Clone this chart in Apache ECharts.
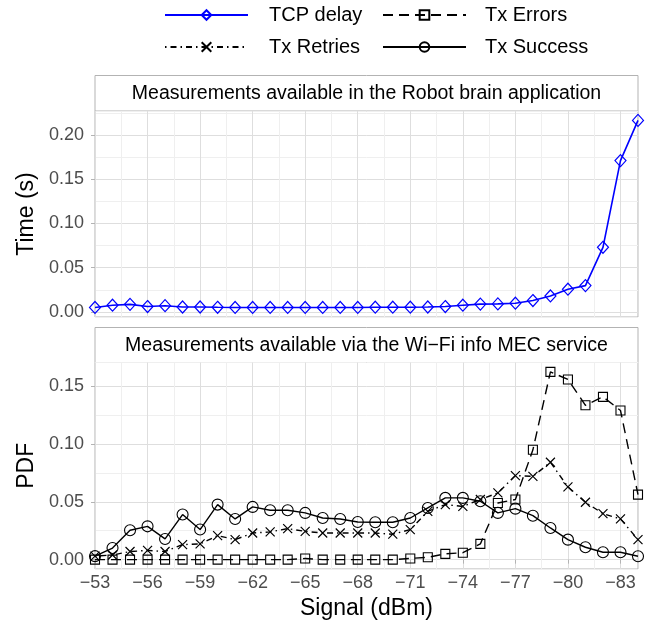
<!DOCTYPE html>
<html>
<head>
<meta charset="utf-8">
<script src="https://cdn.jsdelivr.net/npm/echarts@6/dist/echarts.min.js"></script>
</head>
<body style="margin:0;background:#fff">
<div id="main" style="width:655px;height:628px;"></div>
<script>
// signal levels (dBm), one point per dBm
var signal = [-53, -54, -55, -56, -57, -58, -59, -60, -61, -62, -63, -64, -65, -66, -67, -68,
              -69, -70, -71, -72, -73, -74, -75, -76, -77, -78, -79, -80, -81, -82, -83, -84];

// top panel: TCP delay (s)
var tcpDelay = [0.005, 0.0075, 0.0085, 0.006, 0.007, 0.0055, 0.0055, 0.0052, 0.005, 0.005, 0.005, 0.005, 0.005, 0.005, 0.005, 0.005,
                0.0053, 0.0053, 0.0053, 0.0055, 0.006, 0.0075, 0.0088, 0.009, 0.0098, 0.0128, 0.018, 0.0256, 0.0297, 0.073, 0.171, 0.2165];

// bottom panel: PDFs
var txErrors = [0, 0, 0, 0, 0, 0, 0, 0, 0, 0, 0, 0, 0.001, 0, 0, 0,
                0, 0, 0.001, 0.002, 0.005, 0.006, 0.0136, 0.049, 0.052, 0.095, 0.1624, 0.1558, 0.1335, 0.1408, 0.129, 0.0562];
var txRetries = [0.003, 0.004, 0.007, 0.008, 0.007, 0.013, 0.0136, 0.0208, 0.0173, 0.023, 0.024, 0.0268, 0.0245, 0.023, 0.023, 0.023,
                 0.023, 0.022, 0.026, 0.0418, 0.0476, 0.046, 0.052, 0.0577, 0.0727, 0.072, 0.0842, 0.0629, 0.0496, 0.0398, 0.0352, 0.0173];
var txSuccess = [0.003, 0.010, 0.0254, 0.0288, 0.0179, 0.039, 0.026, 0.0476, 0.0352, 0.0456, 0.0427, 0.0427, 0.0404, 0.036, 0.0352, 0.0326,
                 0.0323, 0.0323, 0.036, 0.0447, 0.0534, 0.0534, 0.0505, 0.0404, 0.0441, 0.038, 0.0274, 0.0173, 0.0107, 0.0064, 0.0064, 0.0029];

var topTicks = [0, 0.05, 0.10, 0.15, 0.20];
var bottomTicks = [0, 0.05, 0.10, 0.15];

var font = 'Liberation Sans, Arial, Helvetica, sans-serif';
var major = '#dedede', minor = '#efefef', border = '#b3b3b3';

var chart = echarts.init(document.getElementById('main'));

function gridAxis(gi, interval, color) {
    return {
        type: 'value', gridIndex: gi, min: 0, max: signal.length - 1, interval: interval,
        axisLine: {show: false}, axisTick: {show: false}, axisLabel: {show: false},
        splitLine: {show: true, lineStyle: {color: color, width: 1}}
    };
}

function minorY(gi, min, max) {
    return {
        type: 'value', gridIndex: gi, position: 'left', min: min, max: max, minInterval: 0.025, maxInterval: 0.025,
        axisLine: {show: false}, axisTick: {show: false}, axisLabel: {show: false},
        splitLine: {show: true, lineStyle: {color: minor, width: 1}}
    };
}

function dataY(gi, min, max, ticks, name) {
    return {
        type: 'value', gridIndex: gi, position: 'left', min: min, max: max, minInterval: 0.05, maxInterval: 0.05,
        name: name, nameLocation: 'middle', nameGap: 54,
        nameTextStyle: {fontFamily: font, fontSize: 23, color: '#000'},
        axisLine: {show: false},
        axisTick: {show: true, length: 4, customValues: ticks, lineStyle: {color: border}},
        axisLabel: {
            customValues: ticks,
            margin: 11, fontFamily: font, fontSize: 18, color: '#4d4d4d',
            formatter: function (v) { return v.toFixed(2); }
        },
        splitLine: {show: true, lineStyle: {color: major, width: 1}}
    };
}

var cats = signal.map(String);

function legendAt(name, left, top, pad) {
    return {
        data: [name], left: left, top: top, padding: 0, orient: 'horizontal',
        itemWidth: 83, itemHeight: 12,
        itemStyle: {color: 'rgba(0,0,0,0)'},
        textStyle: {fontFamily: font, fontSize: 20, color: '#000', padding: [0, 0, 0, pad]}
    };
}

var option = {
    backgroundColor: '#fff',
    animation: false,
    legend: [
        legendAt('TCP delay', 164, 5, 16),
        legendAt('Tx Errors', 382, 5, 14),
        legendAt('Tx Retries', 164, 37, 16),
        legendAt('Tx Success', 382, 37, 14)
    ],
    grid: [
        {left: 95, right: 17, top: 111, height: 206, show: true, backgroundColor: '#fff', borderColor: border, borderWidth: 1,
         containLabel: false, outerBoundsMode: 'none'},
        {left: 95, right: 17, top: 362.5, height: 206.5, show: true, backgroundColor: '#fff', borderColor: border, borderWidth: 1,
         containLabel: false, outerBoundsMode: 'none'}
    ],
    xAxis: [
        {type: 'category', gridIndex: 0, data: cats, boundaryGap: false,
         axisLine: {show: false}, axisTick: {show: false}, axisLabel: {show: false}, splitLine: {show: false}},
        {type: 'category', gridIndex: 1, data: cats, boundaryGap: false,
         name: 'Signal (dBm)', nameLocation: 'middle', nameGap: 28,
         nameTextStyle: {fontFamily: font, fontSize: 23, color: '#000'},
         axisLine: {show: false},
         axisTick: {show: true, interval: 2, length: 4, lineStyle: {color: border}},
         axisLabel: {interval: 2, margin: 5, fontFamily: font, fontSize: 18, color: '#4d4d4d',
                     formatter: function (v) { return v.replace('-', '\u2212'); }},
         splitLine: {show: false}},
        gridAxis(0, 1.5, minor),
        gridAxis(0, 3, major),
        gridAxis(1, 1.5, minor),
        gridAxis(1, 3, major)
    ],
    yAxis: [
        minorY(0, -0.0058, 0.2271),
        minorY(1, -0.0081, 0.1705),
        dataY(0, -0.0058, 0.2271, topTicks, 'Time (s)'),
        dataY(1, -0.0081, 0.1705, bottomTicks, 'PDF')
    ],
    graphic: [
        {type: 'rect', shape: {x: 95, y: 75.5, width: 543, height: 35.5},
         style: {fill: '#fff', stroke: border, lineWidth: 1}},
        {type: 'text', x: 366.5, y: 94,
         style: {text: 'Measurements available in the Robot brain application', fontFamily: font, fontSize: 19.5,
                 fill: '#000', align: 'center', verticalAlign: 'middle'}},
        {type: 'rect', shape: {x: 95, y: 327.5, width: 543, height: 35},
         style: {fill: '#fff', stroke: border, lineWidth: 1}},
        {type: 'text', x: 366.5, y: 345.5,
         style: {text: 'Measurements available via the Wi\u2212Fi info MEC service', fontFamily: font, fontSize: 19.5,
                 fill: '#000', align: 'center', verticalAlign: 'middle'}}
    ],
    series: [
        {name: 'TCP delay', type: 'line', xAxisIndex: 0, yAxisIndex: 2, data: tcpDelay,
         symbol: 'diamond', symbolSize: [11, 12], showAllSymbol: true, clip: false,
         lineStyle: {color: '#0000ff', width: 1.6},
         itemStyle: {color: 'rgba(0,0,0,0)', borderColor: '#0000ff', borderWidth: 1.2}},
        {name: 'Tx Errors', type: 'line', xAxisIndex: 1, yAxisIndex: 3, data: txErrors,
         symbol: 'rect', symbolSize: 9, showAllSymbol: true, clip: false,
         lineStyle: {color: '#000', width: 1.4, type: [10, 6]},
         itemStyle: {color: 'rgba(0,0,0,0)', borderColor: '#000', borderWidth: 1.1}},
        {name: 'Tx Retries', type: 'line', xAxisIndex: 1, yAxisIndex: 3, data: txRetries,
         symbol: 'path://M0,0L10,10M10,0L0,10', symbolSize: 9, showAllSymbol: true, clip: false,
         lineStyle: {color: '#000', width: 1.4, type: [1.5, 4, 6, 4]},
         itemStyle: {color: 'rgba(0,0,0,0)', borderColor: '#000', borderWidth: 1.2}},
        {name: 'Tx Success', type: 'line', xAxisIndex: 1, yAxisIndex: 3, data: txSuccess,
         symbol: 'circle', symbolSize: 11, showAllSymbol: true, clip: false,
         lineStyle: {color: '#000', width: 1.4},
         itemStyle: {color: 'rgba(0,0,0,0)', borderColor: '#000', borderWidth: 1.1}}
    ]
};

chart.setOption(option);
</script>
</body>
</html>
